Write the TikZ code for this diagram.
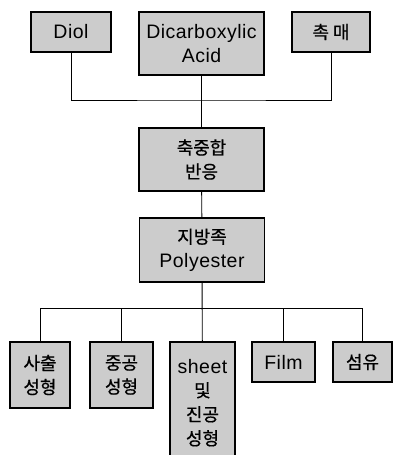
\documentclass[tikz,border=0pt]{standalone}
\usepackage{fontspec}
\setmainfont[LetterSpace=2.5]{Liberation Sans}
\newfontfamily\kr[Scale=0.92, FakeBold=0.6]{Noto Sans CJK KR}
\tikzstyle{bx}=[draw=black, line width=1.3pt, fill=black!20, align=center, inner sep=0, font=\fontsize{19.5}{24}\selectfont]
\tikzstyle{ln}=[line width=0.9pt]

\begin{document}
\begin{tikzpicture}[x=1pt, y=-1pt]
\useasboundingbox (0,0) rectangle (393,455);
\clip (0,0) rectangle (393,455);
\draw (71,32) node[bx, minimum width=80pt, minimum height=40pt](diol) {Diol};
\draw (201.5,43.5) node[bx, minimum width=125pt, minimum height=63pt](acid) {Dicarboxylic\\Acid};
\draw (331,32) node[bx, minimum width=78pt, minimum height=40pt](cat) {\kr 촉 매};
\draw (201.5,159.5) node[bx, minimum width=125pt, minimum height=63pt](react) {\kr 축중합\\\kr 반응};
\draw (202,250) node[bx, minimum width=125pt, minimum height=64pt](polyester) {{\kr 지방족}\\Polyester};
\coordinate (top) at (201.5,100);
\draw[ln] (diol) |- (top) -| (cat);
\draw[ln] (acid) -- (react);
\draw[ln] (react) -- (polyester);
\draw (40,375) node[bx, minimum width=60pt, minimum height=66pt](inject) {\kr 사출\\\kr 성형};
\draw (121.5,375) node[bx, minimum width=63pt, minimum height=66pt](blow) {\kr 중공\\\kr 성형};
\draw (202.5,402) node[bx, minimum width=65pt, minimum height=120pt, text depth=0pt](sheet) {sheet\\\kr 및\\\kr 진공\\\kr 성형};
\draw (283.5,362) node[bx, minimum width=63pt, minimum height=40pt](film) {Film};
\draw (362.5,362) node[bx, minimum width=59pt, minimum height=40pt](fiber) {\kr 섬유};
\coordinate (bus) at (202,308);
\draw[ln] (inject) |- (bus) -| (fiber);
\draw[ln] (blow) |- (bus);
\draw[ln] (film) |- (bus);
\draw[ln] (polyester) -- (sheet);
\end{tikzpicture}
\end{document}
